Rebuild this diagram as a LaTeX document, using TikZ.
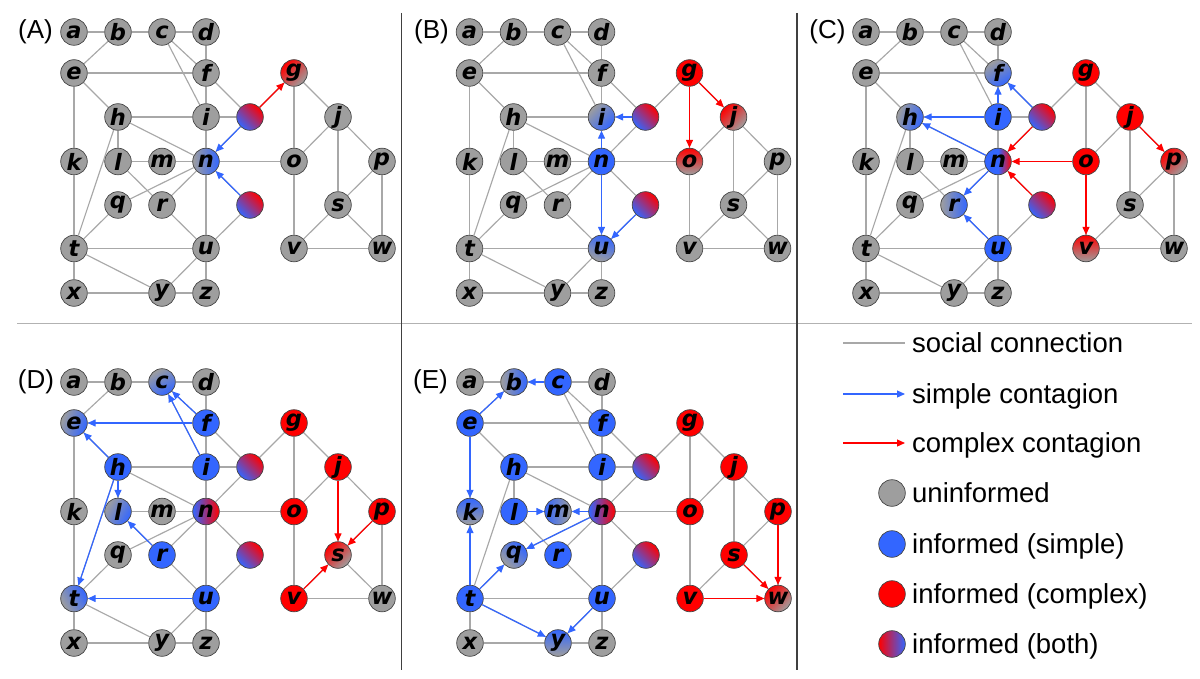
\documentclass[tikz,border=0pt]{standalone}
\usepackage{fontspec}
\setmainfont{Liberation Sans}
\newfontfamily\nodefam{DejaVu Sans}
\usetikzlibrary{arrows.meta}
\definecolor{ngrey}{RGB}{158,158,158}
\definecolor{egrey}{RGB}{168,168,168}
\definecolor{nblue}{RGB}{51,102,255}
\definecolor{nred}{RGB}{255,0,0}
\definecolor{nborder}{RGB}{70,70,70}
\tikzset{
  nd/.style={circle, draw=nborder, line width=0.7pt, fill=ngrey, minimum size=26.6pt, inner sep=0pt,
    font=\nodefam\bfseries\itshape\fontsize{22.5}{22.5}\selectfont},
  edge/.style={draw=egrey, line width=1.15pt},
  barrow/.style={draw=nblue, line width=1.2pt, -{Triangle[length=8pt,width=7pt]}},
  rarrow/.style={draw=nred, line width=1.2pt, -{Triangle[length=8pt,width=7pt]}},
  sb/.style={fill=nblue}, sr/.style={fill=nred},
  pb/.style={top color=nblue, bottom color=ngrey, shading angle=#1},
  pr/.style={top color=nred, bottom color=ngrey, shading angle=#1},
  both/.style={top color=nred, bottom color=nblue, shading angle=-45},
  bothlr/.style={left color=nblue, right color=nred},
  st a/.style={}, st b/.style={}, st c/.style={}, st d/.style={}, st e/.style={},
  st f/.style={}, st g/.style={}, st h/.style={}, st i/.style={}, st j/.style={},
  st k/.style={}, st l/.style={}, st m/.style={}, st n/.style={}, st o/.style={},
  st p/.style={}, st q/.style={}, st r/.style={}, st s/.style={}, st t/.style={},
  st u/.style={}, st v/.style={}, st w/.style={}, st x/.style={}, st y/.style={},
  st z/.style={}, st P/.style={both}, st Q/.style={both},
  panellabel/.style={font=\fontsize{26}{26}\selectfont, inner sep=0pt},
  legtext/.style={anchor=base west, font=\fontsize{27.5}{30}\selectfont, inner sep=0pt},
  divv/.style={draw=black!75, line width=1.2pt},
  divh/.style={draw=black!30, line width=1.2pt},
}
\newcommand\drawpanel[1]{%
  \foreach \nn/\cc/\yy in {a/0/32,b/1/32,c/2/32,d/3/32,e/0/73,f/3/73,g/5/73,
      h/1/117,i/3/117,j/6/117,k/0/161.5,l/1/161.5,m/2/161.5,n/3/161.5,o/5/161.5,p/7/161.5,
      q/1/205,r/2/205,s/6/205,t/0/248.5,u/3/248.5,v/5/248.5,w/7/248.5,x/0/293,y/2/293,z/3/293}
    {\node[nd, st \nn] (#1\nn) at ({74+44*\cc},\yy) {\nn};}
  \node[nd, st P] (#1P) at (250,117) {};
  \node[nd, st Q] (#1Q) at (250,205) {};
  \foreach \fromn/\ton in {a/b,b/c,c/d,b/e,c/f,c/i,d/f,e/f,e/h,e/k,f/i,f/P,h/i,i/P,h/l,h/n,h/t,
      P/g,P/n,g/o,g/j,i/n,l/m,m/n,l/r,n/o,n/q,n/r,n/u,n/Q,j/o,j/p,j/s,p/s,p/w,k/t,q/t,r/u,
      t/u,t/x,t/y,u/y,u/z,u/Q,o/v,s/v,s/w,v/w,x/y,y/z}
    {\draw[edge] (#1\fromn) -- (#1\ton);}
}
\begin{document}
\begin{tikzpicture}[x=1pt,y=-1pt]
\useasboundingbox (0,0) rectangle (1200,679);
% dividers
\draw[divh] (17,323.5) -- (1192,323.5);
\draw[divv] (401.5,13) -- (401.5,670);
\draw[divv] (797,13) -- (797,670);
% panel A
\begin{scope}[st g/.style={pr=45}, st n/.style={pb=-90}]
  \drawpanel{A}
  \node[panellabel] (labA) at (35.5,32) {(A)};
  \foreach \fromn/\ton in {P/n,Q/n} {\draw[barrow] (A\fromn) -- (A\ton);}
  \draw[rarrow] (AP) -- (Ag);
\end{scope}
% panel B
\begin{scope}[shift={(395.5,0)}, st g/.style={sr}, st j/.style={pr=45}, st o/.style={pr=0},
   st i/.style={pb=-135}, st n/.style={sb}, st u/.style={pb=-20}]
  \drawpanel{B}
  \node[panellabel] (labB) at (36,32) {(B)};
  \foreach \fromn/\ton in {P/i,n/i,n/u,Q/u} {\draw[barrow] (B\fromn) -- (B\ton);}
  \foreach \fromn/\ton in {g/j,g/o} {\draw[rarrow] (B\fromn) -- (B\ton);}
\end{scope}
% panel C
\begin{scope}[shift={(792,0)}, st f/.style={pb=-150}, st h/.style={pb=-110}, st i/.style={sb},
   st n/.style={left color=nblue, right color=nred, middle color=nblue}, st r/.style={pb=-90},
   st u/.style={sb}, st g/.style={sr}, st j/.style={sr}, st o/.style={sr},
   st p/.style={pr=45}, st v/.style={pr=0}]
  \drawpanel{C}
  \node[panellabel] (labC) at (35.5,32) {(C)};
  \foreach \fromn/\ton in {P/f,i/f,i/h,n/h,n/r,u/r} {\draw[barrow] (C\fromn) -- (C\ton);}
  \foreach \fromn/\ton in {P/n,o/n,Q/n,j/p,o/v} {\draw[rarrow] (C\fromn) -- (C\ton);}
\end{scope}
% panel D
\begin{scope}[shift={(0,350)}, st c/.style={pb=-150}, st e/.style={pb=-110}, st f/.style={sb},
   st h/.style={sb}, st i/.style={sb}, st l/.style={pb=-120}, st n/.style={bothlr},
   st r/.style={sb}, st t/.style={pb=-60}, st u/.style={sb}, st g/.style={sr},
   st j/.style={sr}, st o/.style={sr}, st p/.style={sr}, st v/.style={sr}, st s/.style={pr=45}]
  \drawpanel{D}
  \node[panellabel] (labD) at (36,32) {(D)};
  \foreach \fromn/\ton in {f/c,i/c,f/e,h/e,h/l,h/t,r/l,u/t} {\draw[barrow] (D\fromn) -- (D\ton);}
  \foreach \fromn/\ton in {j/s,p/s,v/s} {\draw[rarrow] (D\fromn) -- (D\ton);}
\end{scope}
% panel E
\begin{scope}[shift={(396,350)}, st b/.style={pb=-90}, st c/.style={sb}, st e/.style={sb},
   st f/.style={sb}, st h/.style={sb}, st i/.style={sb}, st k/.style={pb=0}, st l/.style={sb},
   st m/.style={pb=90}, st n/.style={bothlr}, st q/.style={pb=-45}, st r/.style={sb},
   st t/.style={sb}, st u/.style={sb}, st y/.style={pb=0}, st g/.style={sr}, st j/.style={sr},
   st o/.style={sr}, st p/.style={sr}, st s/.style={sr}, st v/.style={sr}, st w/.style={pr=45}]
  \drawpanel{E}
  \node[panellabel] (labE) at (34.5,32) {(E)};
  \foreach \fromn/\ton in {c/b,e/b,e/k,t/k,l/m,n/m,n/q,t/q,t/y,u/y} {\draw[barrow] (E\fromn) -- (E\ton);}
  \foreach \fromn/\ton in {s/w,p/w,v/w} {\draw[rarrow] (E\fromn) -- (E\ton);}
\end{scope}
% legend
\coordinate (L1a) at (843,343); \coordinate (L1b) at (905,343);
\draw[edge] (L1a) -- (L1b);
\coordinate (L2a) at (843,394); \coordinate (L2b) at (905,394);
\draw[barrow] (L2a) -- (L2b);
\coordinate (L3a) at (843,443); \coordinate (L3b) at (905,443);
\draw[rarrow] (L3a) -- (L3b);
\node[nd] (Lc1) at (892,493) {};
\node[nd, sb] (Lc2) at (892,544) {};
\node[nd, sr] (Lc3) at (892,594) {};
\node[nd, left color=nred, right color=nblue] (Lc4) at (892,644) {};
\node[legtext] (Lt1) at (912,352) {social connection};
\node[legtext] (Lt2) at (912,403) {simple contagion};
\node[legtext] (Lt3) at (912,452) {complex contagion};
\node[legtext] (Lt4) at (912,502) {uninformed};
\node[legtext] (Lt5) at (912,553) {informed (simple)};
\node[legtext] (Lt6) at (912,603) {informed (complex)};
\node[legtext] (Lt7) at (912,653) {informed (both)};
\end{tikzpicture}
\end{document}
